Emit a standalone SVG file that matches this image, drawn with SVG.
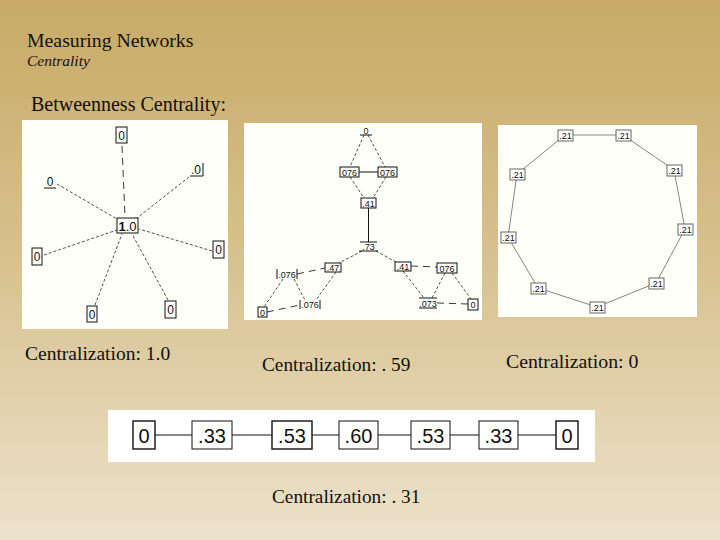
<svg xmlns="http://www.w3.org/2000/svg" width="720" height="540" viewBox="0 0 720 540">
<defs>
<linearGradient id="bg" x1="0" y1="0" x2="0" y2="1">
<stop offset="0" stop-color="#c8aa66"/>
<stop offset="0.5" stop-color="#d8c290"/>
<stop offset="1" stop-color="#ece2cb"/>
</linearGradient>
<style>
.ttl{font-family:"Liberation Serif",serif;fill:#111}
.n{font-family:"Liberation Sans",Arial,sans-serif;fill:#111;text-anchor:middle}
.box{fill:#fff;stroke:#111;stroke-width:1}
.d{stroke:#222;stroke-width:0.8;stroke-dasharray:3,2;fill:none}
.ld{stroke:#222;stroke-width:0.9;stroke-dasharray:7,5;fill:none}
.s{stroke:#111;stroke-width:1;fill:none}
.g{stroke:#666;stroke-width:0.8;fill:none}
.gb{fill:#fff;stroke:#555;stroke-width:0.9}
.bb{fill:#fff;stroke:#111;stroke-width:1.4}
</style>
</defs>
<rect x="0" y="0" width="720" height="540" fill="url(#bg)"/>
<text class="ttl" x="27" y="47" font-size="19.8">Measuring Networks</text>
<text class="ttl" x="27" y="66" font-size="15.5" font-style="italic">Centrality</text>
<text class="ttl" x="31" y="111" font-size="20">Betweenness Centrality:</text>

<!-- Panel 1: star -->
<rect x="22" y="120" width="206" height="209" fill="#fffffa"/>
<g id="star-edges">
<line class="ld" x1="122" y1="146" x2="125" y2="217"/>
<line class="d" x1="57" y1="184" x2="117" y2="219"/>
<line class="d" x1="189" y1="177" x2="137" y2="218"/>
<line class="d" x1="212" y1="251" x2="139" y2="229"/>
<line class="d" x1="44" y1="255" x2="117" y2="230"/>
<line class="d" x1="95" y1="305" x2="122" y2="234"/>
<line class="d" x1="168" y1="300" x2="132" y2="234"/>
</g>
<g id="s-top"><rect class="box" x="116" y="127" width="11" height="16"/><text class="n" x="121.5" y="140" font-size="12">0</text></g>
<g id="s-ur"><polyline class="s" points="190,176 203,176 203,163"/><text class="n" x="196" y="174" font-size="12">.0</text></g>
<g id="s-ul"><line class="s" x1="44" y1="188" x2="56" y2="188"/><text class="n" x="50" y="186" font-size="12">0</text></g>
<g id="s-center"><rect class="box" x="117" y="218" width="21" height="15"/><text class="n" x="127.5" y="231" font-size="13"><tspan font-weight="bold">1</tspan>.0</text></g>
<g id="s-r"><rect class="box" x="213" y="241" width="11" height="17"/><text class="n" x="218.5" y="254" font-size="12">0</text></g>
<g id="s-l"><rect class="box" x="32" y="248" width="10" height="17"/><text class="n" x="37" y="261" font-size="12">0</text></g>
<g id="s-bl"><rect class="box" x="87" y="306" width="10" height="16"/><text class="n" x="92" y="319" font-size="12">0</text></g>
<g id="s-br"><rect class="box" x="165" y="301" width="11" height="17"/><text class="n" x="170.5" y="314" font-size="12">0</text></g>

<!-- Panel 2 -->
<rect x="244" y="123" width="238" height="197" fill="#fffffa"/>
<g id="p2-edges">
<line class="d" x1="364" y1="135" x2="350" y2="167"/>
<line class="d" x1="368" y1="135" x2="385" y2="167"/>
<line class="s" x1="359" y1="172" x2="378" y2="172"/>
<line class="d" x1="350" y1="177" x2="364" y2="198"/>
<line class="d" x1="386" y1="177" x2="373" y2="198"/>
<line class="s" x1="368.5" y1="208" x2="368.5" y2="242"/>
<line class="d" x1="362" y1="251" x2="339" y2="263"/>
<line class="d" x1="376" y1="251" x2="396" y2="262"/>
<line class="ld" x1="297" y1="274" x2="325" y2="268"/>
<line class="d" x1="336" y1="272" x2="316" y2="300"/>
<line class="d" x1="283" y1="279" x2="264" y2="307"/>
<line class="d" x1="294" y1="279" x2="305" y2="300"/>
<line class="ld" x1="267" y1="312" x2="300" y2="305"/>
<line class="ld" x1="411" y1="266" x2="437" y2="267"/>
<line class="d" x1="403" y1="271" x2="424" y2="298"/>
<line class="d" x1="445" y1="273" x2="432" y2="298"/>
<line class="d" x1="452" y1="273" x2="471" y2="299"/>
<line class="ld" x1="437" y1="303" x2="468" y2="304"/>
</g>
<g id="p2-top"><line class="s" x1="360" y1="135" x2="372" y2="135"/><text class="n" x="366" y="134" font-size="9">0</text></g>
<g id="p2-a"><rect class="box" x="340" y="167" width="19" height="10"/><text class="n" x="349.5" y="175.5" font-size="9">076</text></g>
<g id="p2-b"><rect class="box" x="378" y="167" width="19" height="10"/><text class="n" x="387.5" y="175.5" font-size="9">076</text></g>
<g id="p2-c"><rect class="box" x="361" y="198" width="15" height="10"/><text class="n" x="368.5" y="206.5" font-size="9">.41</text></g>
<g id="p2-d"><line class="s" x1="360" y1="242" x2="377" y2="242"/><line class="s" x1="359" y1="251" x2="378" y2="251"/><text class="n" x="368.5" y="250" font-size="9">.73</text></g>
<g id="p2-e"><rect class="box" x="325" y="263" width="16" height="9"/><text class="n" x="333" y="271" font-size="9">.47</text></g>
<g id="p2-f"><rect class="box" x="395" y="262" width="16" height="9"/><text class="n" x="403" y="270" font-size="9">.41</text></g>
<g id="p2-g"><rect class="box" x="437" y="263" width="20" height="10"/><text class="n" x="447" y="271.5" font-size="9">076</text></g>
<g id="p2-h"><line class="s" x1="277" y1="269" x2="277" y2="279"/><line class="s" x1="297" y1="269" x2="297" y2="279"/><text class="n" x="287" y="277.5" font-size="9">.076</text></g>
<g id="p2-i"><rect class="box" x="258" y="307" width="9" height="10"/><text class="n" x="262.5" y="315.5" font-size="9">0</text></g>
<g id="p2-j"><line class="s" x1="300" y1="300" x2="300" y2="309"/><line class="s" x1="320" y1="300" x2="320" y2="309"/><text class="n" x="310" y="308" font-size="9">.076</text></g>
<g id="p2-k"><line class="s" x1="419" y1="298" x2="437" y2="298"/><line class="s" x1="419" y1="308" x2="437" y2="308"/><text class="n" x="428" y="306.5" font-size="9">.073</text></g>
<g id="p2-l"><rect class="box" x="468" y="299" width="10" height="11"/><text class="n" x="473" y="308" font-size="9">0</text></g>

<!-- Panel 3: ring -->
<rect x="498" y="125" width="199" height="192" fill="#fffffa"/>
<g id="ring-edges">
<polygon class="g" points="565,135 623,135 674,170 685,229 656,283 597,307 538,288 508,237 517,174"/>
</g>
<g id="r1"><rect class="gb" x="558" y="130" width="15" height="11"/><text class="n" x="565.5" y="139" font-size="9">.21</text></g>
<g id="r2"><rect class="gb" x="616" y="130" width="15" height="11"/><text class="n" x="623.5" y="139" font-size="9">.21</text></g>
<g id="r3"><rect class="gb" x="667" y="165" width="15" height="11"/><text class="n" x="674.5" y="174" font-size="9">.21</text></g>
<g id="r4"><rect class="gb" x="678" y="224" width="15" height="11"/><text class="n" x="685.5" y="233" font-size="9">.21</text></g>
<g id="r5"><rect class="gb" x="649" y="278" width="15" height="11"/><text class="n" x="656.5" y="287" font-size="9">.21</text></g>
<g id="r6"><rect class="gb" x="590" y="302" width="15" height="11"/><text class="n" x="597.5" y="311" font-size="9">.21</text></g>
<g id="r7"><rect class="gb" x="531" y="283" width="15" height="11"/><text class="n" x="538.5" y="292" font-size="9">.21</text></g>
<g id="r8"><rect class="gb" x="501" y="232" width="15" height="11"/><text class="n" x="508.5" y="241" font-size="9">.21</text></g>
<g id="r9"><rect class="gb" x="510" y="169" width="15" height="11"/><text class="n" x="517.5" y="178" font-size="9">.21</text></g>

<text class="ttl" x="25" y="360" font-size="19.5">Centralization: 1.0</text>
<text class="ttl" x="262" y="371" font-size="19.3">Centralization: . 59</text>
<text class="ttl" x="506" y="368" font-size="19.8">Centralization: 0</text>

<!-- Line network -->
<rect x="108" y="410" width="487" height="52" fill="#fff"/>
<g id="line-edges">
<line class="s" x1="155" y1="435" x2="556" y2="435"/>
</g>
<g id="l1"><rect class="bb" x="133" y="421" width="22" height="28"/><text class="n" x="144" y="443" font-size="20">0</text></g>
<g id="l2"><rect class="box" x="192" y="421" width="40" height="28"/><text class="n" x="212" y="443" font-size="20">.33</text></g>
<g id="l3"><rect class="bb" x="272" y="421" width="40" height="28"/><text class="n" x="292" y="443" font-size="20">.53</text></g>
<g id="l4"><rect class="box" x="339" y="421" width="39" height="28"/><text class="n" x="358.5" y="443" font-size="20">.60</text></g>
<g id="l5"><rect class="box" x="411" y="421" width="39" height="28"/><text class="n" x="430.5" y="443" font-size="20">.53</text></g>
<g id="l6"><rect class="box" x="479" y="421" width="39" height="28"/><text class="n" x="498.5" y="443" font-size="20">.33</text></g>
<g id="l7"><rect class="bb" x="556" y="421" width="22" height="28"/><text class="n" x="567" y="443" font-size="20">0</text></g>

<text class="ttl" x="272" y="503" font-size="19.3">Centralization: . 31</text>
</svg>
